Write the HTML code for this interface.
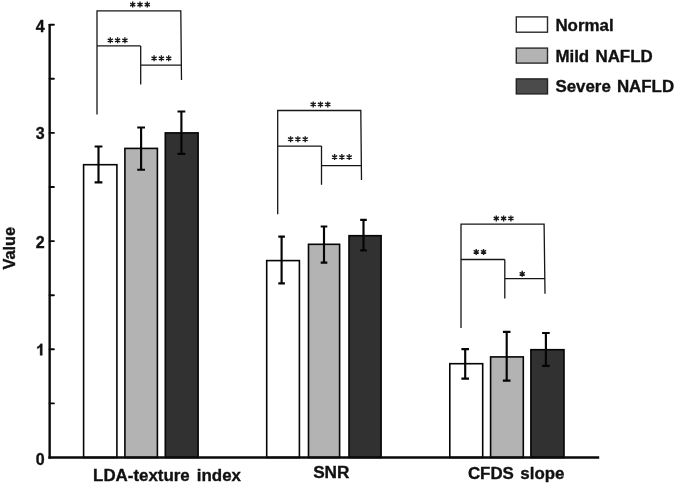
<!DOCTYPE html>
<html><head><meta charset="utf-8"><title>Chart</title>
<style>html,body{margin:0;padding:0;background:#fff;}body{width:675px;height:484px;overflow:hidden;}svg{display:block;will-change:transform;}text{font-family:"Liberation Sans",sans-serif;font-weight:bold;fill:#111;stroke:#111;stroke-width:0.35px;stroke-linejoin:round;}</style>
</head><body>
<svg width="675" height="484" viewBox="0 0 675 484">
<rect x="0" y="0" width="675" height="484" fill="#ffffff"/>
<rect x="83.6" y="164.7" width="33.3" height="292.8" fill="#ffffff" stroke="#050505" stroke-width="1.6"/>
<rect x="124.9" y="148.4" width="32.5" height="309.1" fill="#b3b3b3" stroke="#050505" stroke-width="1.6"/>
<rect x="165.3" y="132.9" width="32.8" height="324.6" fill="#313131" stroke="#050505" stroke-width="1.6"/>
<rect x="266.7" y="260.6" width="32.7" height="196.9" fill="#ffffff" stroke="#050505" stroke-width="1.6"/>
<rect x="308.5" y="244.3" width="31.1" height="213.2" fill="#b3b3b3" stroke="#050505" stroke-width="1.6"/>
<rect x="349.0" y="235.7" width="32.1" height="221.8" fill="#313131" stroke="#050505" stroke-width="1.6"/>
<rect x="449.8" y="363.7" width="32.9" height="93.8" fill="#ffffff" stroke="#050505" stroke-width="1.6"/>
<rect x="490.6" y="356.9" width="32.7" height="100.6" fill="#b3b3b3" stroke="#050505" stroke-width="1.6"/>
<rect x="530.9" y="349.7" width="33.1" height="107.8" fill="#313131" stroke="#050505" stroke-width="1.6"/>
<path d="M94.6 146.5H102.4M98.5 146.5V182.4M94.6 182.4H102.4" stroke="#050505" stroke-width="2.15" fill="none"/>
<path d="M137.2 127.5H145.0M141.1 127.5V169.7M137.2 169.7H145.0" stroke="#050505" stroke-width="2.15" fill="none"/>
<path d="M177.5 111.5H185.3M181.4 111.5V153.9M177.5 153.9H185.3" stroke="#050505" stroke-width="2.15" fill="none"/>
<path d="M278.3 236.6H284.9M281.6 236.6V283.3M278.3 283.3H284.9" stroke="#050505" stroke-width="2.15" fill="none"/>
<path d="M320.7 226.5H327.3M324.0 226.5V262.6M320.7 262.6H327.3" stroke="#050505" stroke-width="2.15" fill="none"/>
<path d="M360.2 219.8H366.8M363.5 219.8V250.3M360.2 250.3H366.8" stroke="#050505" stroke-width="2.15" fill="none"/>
<path d="M461.4 349.1H469.0M465.2 349.1V378.6M461.4 378.6H469.0" stroke="#050505" stroke-width="2.15" fill="none"/>
<path d="M502.9 331.8H510.5M506.7 331.8V380.6M502.9 380.6H510.5" stroke="#050505" stroke-width="2.15" fill="none"/>
<path d="M542.1 333.0H549.7M545.9 333.0V365.8M542.1 365.8H549.7" stroke="#050505" stroke-width="2.15" fill="none"/>
<path d="M49.65 23.9V458.8" stroke="#0a0a0a" stroke-width="2.4" fill="none"/>
<path d="M48.45 457.5H599.2" stroke="#0a0a0a" stroke-width="2.5" fill="none"/>
<path d="M49.6 403.4H53.9" stroke="#0a0a0a" stroke-width="1.9" stroke-linecap="round" fill="none"/>
<path d="M49.6 349.3H53.9" stroke="#0a0a0a" stroke-width="1.9" stroke-linecap="round" fill="none"/>
<path d="M49.6 295.2H53.9" stroke="#0a0a0a" stroke-width="1.9" stroke-linecap="round" fill="none"/>
<path d="M49.6 241.1H53.9" stroke="#0a0a0a" stroke-width="1.9" stroke-linecap="round" fill="none"/>
<path d="M49.6 187.0H53.9" stroke="#0a0a0a" stroke-width="1.9" stroke-linecap="round" fill="none"/>
<path d="M49.6 132.9H53.9" stroke="#0a0a0a" stroke-width="1.9" stroke-linecap="round" fill="none"/>
<path d="M49.6 78.8H53.9" stroke="#0a0a0a" stroke-width="1.9" stroke-linecap="round" fill="none"/>
<path d="M49.6 24.7H53.9" stroke="#0a0a0a" stroke-width="1.9" stroke-linecap="round" fill="none"/>
<text x="44.6" y="464.7" font-size="16" text-anchor="end">0</text>
<path transform="translate(33.55 355.35) scale(0.0078125 -0.0078125)" d="M1120 0H839V1059Q685 915 476 846V1101Q586 1137 715 1237.5Q844 1338 892 1472H1120Z" fill="#111" stroke="#111" stroke-width="45" stroke-linejoin="round"/>
<text x="44.6" y="247.7" font-size="16" text-anchor="end">2</text>
<text x="44.6" y="139.0" font-size="16" text-anchor="end">3</text>
<text x="44.6" y="31.6" font-size="16" text-anchor="end">4</text>
<text transform="translate(15.0 248.2) rotate(-90) scale(1 1.06)" font-size="16.4" text-anchor="middle">Value</text>
<text x="167" y="481.2" font-size="16.9" word-spacing="2.4" text-anchor="middle">LDA-texture index</text>
<text x="331.3" y="478.2" font-size="17.2" text-anchor="middle">SNR</text>
<text x="516.2" y="478.7" font-size="16.9" word-spacing="1.8" text-anchor="middle">CFDS slope</text>
<rect x="516.3" y="16.9" width="31.2" height="15.3" fill="#fff" stroke="#2a2a2a" stroke-width="1.4"/>
<rect x="516.3" y="48.1" width="31.2" height="15.0" fill="#b3b3b3" stroke="#2a2a2a" stroke-width="1.4"/>
<rect x="516.3" y="78.9" width="31.2" height="15.0" fill="#4b4b4b" stroke="#222" stroke-width="1.4"/>
<text x="555.4" y="31.3" font-size="16.9">Normal</text>
<text x="555.4" y="61.8" font-size="16.9" word-spacing="1.6">Mild NAFLD</text>
<text x="555.4" y="92.4" font-size="16.9" word-spacing="1.4">Severe NAFLD</text>
<path d="M97.0 114.6V10.85H180.8L181.5 80.0M97.0 45.9H140.7M140.7 45.9V84.6M140.7 65.1H181.5" stroke="#161616" stroke-width="1.3" fill="none" stroke-linejoin="miter"/>
<path d="M277.7 214.2V110.5H360.8L361.5 180.1M277.7 146.1H321.5M321.5 146.1V184.7M321.5 165.6H361.5" stroke="#161616" stroke-width="1.3" fill="none" stroke-linejoin="miter"/>
<path d="M461.0 327.9V224.2H544.1L545.0 293.8M461.0 259.5H504.8M504.8 259.5V298.4M504.8 278.7H545.0" stroke="#161616" stroke-width="1.3" fill="none" stroke-linejoin="miter"/>
<path d="M132.70 1.60L132.70 7.60M130.10 3.10L135.30 6.10M135.30 3.10L130.10 6.10M140.00 1.60L140.00 7.60M137.40 3.10L142.60 6.10M142.60 3.10L137.40 6.10M147.30 1.60L147.30 7.60M144.70 3.10L149.90 6.10M149.90 3.10L144.70 6.10" stroke="#1a1a1a" stroke-width="1.35" fill="none"/>
<path d="M110.30 37.30L110.30 43.30M107.70 38.80L112.90 41.80M112.90 38.80L107.70 41.80M117.60 37.30L117.60 43.30M115.00 38.80L120.20 41.80M120.20 38.80L115.00 41.80M124.90 37.30L124.90 43.30M122.30 38.80L127.50 41.80M127.50 38.80L122.30 41.80" stroke="#1a1a1a" stroke-width="1.35" fill="none"/>
<path d="M154.10 55.30L154.10 61.30M151.50 56.80L156.70 59.80M156.70 56.80L151.50 59.80M161.40 55.30L161.40 61.30M158.80 56.80L164.00 59.80M164.00 56.80L158.80 59.80M168.70 55.30L168.70 61.30M166.10 56.80L171.30 59.80M171.30 56.80L166.10 59.80" stroke="#1a1a1a" stroke-width="1.35" fill="none"/>
<path d="M313.20 101.40L313.20 107.40M310.60 102.90L315.80 105.90M315.80 102.90L310.60 105.90M320.50 101.40L320.50 107.40M317.90 102.90L323.10 105.90M323.10 102.90L317.90 105.90M327.80 101.40L327.80 107.40M325.20 102.90L330.40 105.90M330.40 102.90L325.20 105.90" stroke="#1a1a1a" stroke-width="1.35" fill="none"/>
<path d="M290.60 136.20L290.60 142.20M288.00 137.70L293.20 140.70M293.20 137.70L288.00 140.70M297.90 136.20L297.90 142.20M295.30 137.70L300.50 140.70M300.50 137.70L295.30 140.70M305.20 136.20L305.20 142.20M302.60 137.70L307.80 140.70M307.80 137.70L302.60 140.70" stroke="#1a1a1a" stroke-width="1.35" fill="none"/>
<path d="M334.60 154.10L334.60 160.10M332.00 155.60L337.20 158.60M337.20 155.60L332.00 158.60M341.90 154.10L341.90 160.10M339.30 155.60L344.50 158.60M344.50 155.60L339.30 158.60M349.20 154.10L349.20 160.10M346.60 155.60L351.80 158.60M351.80 155.60L346.60 158.60" stroke="#1a1a1a" stroke-width="1.35" fill="none"/>
<path d="M496.30 215.40L496.30 221.40M493.70 216.90L498.90 219.90M498.90 216.90L493.70 219.90M503.60 215.40L503.60 221.40M501.00 216.90L506.20 219.90M506.20 216.90L501.00 219.90M510.90 215.40L510.90 221.40M508.30 216.90L513.50 219.90M513.50 216.90L508.30 219.90" stroke="#1a1a1a" stroke-width="1.35" fill="none"/>
<path d="M476.25 248.90L476.25 254.90M473.65 250.40L478.85 253.40M478.85 250.40L473.65 253.40M483.55 248.90L483.55 254.90M480.95 250.40L486.15 253.40M486.15 250.40L480.95 253.40" stroke="#1a1a1a" stroke-width="1.35" fill="none"/>
<path d="M522.20 270.80L522.20 276.80M519.60 272.30L524.80 275.30M524.80 272.30L519.60 275.30" stroke="#1a1a1a" stroke-width="1.35" fill="none"/>
</svg>
</body></html>
